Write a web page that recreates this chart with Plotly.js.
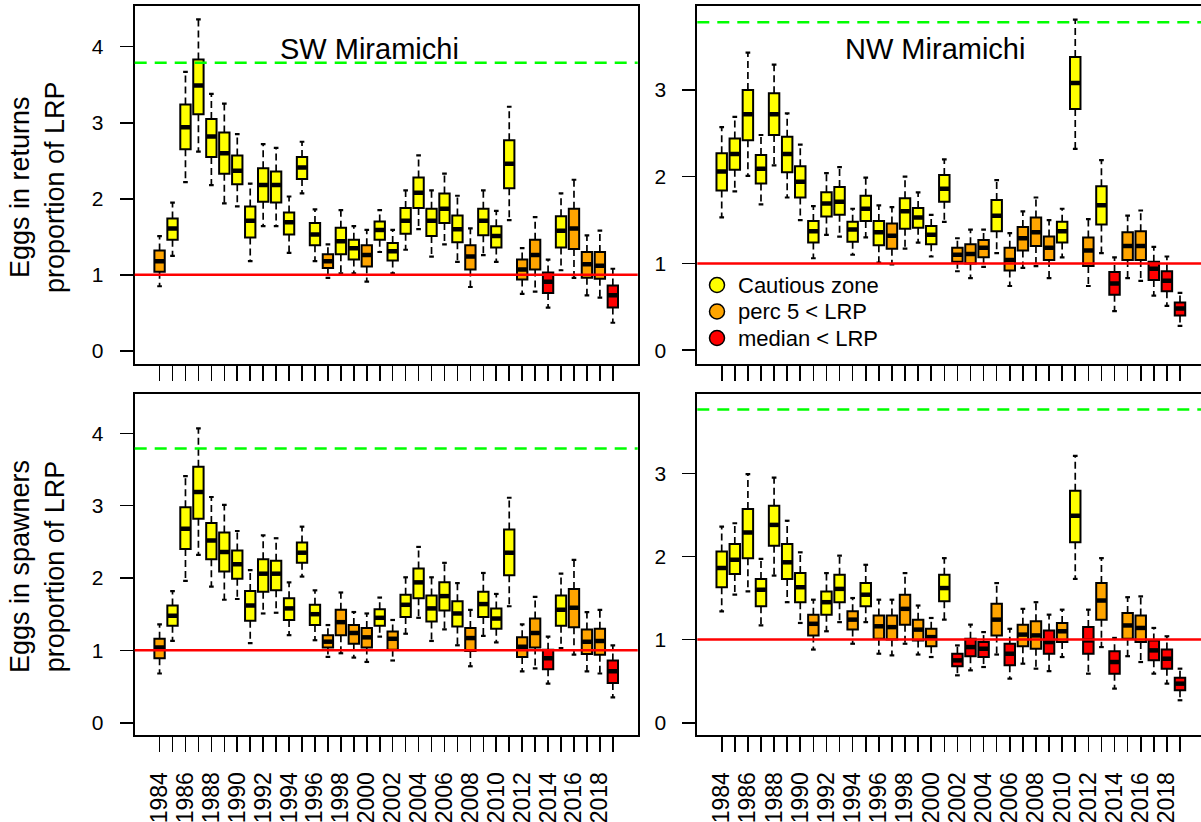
<!DOCTYPE html>
<html>
<head>
<meta charset="utf-8">
<script src="https://cdn.plot.ly/plotly-3.0.1.min.js"></script>
<style>html,body{margin:0;padding:0;background:#fff;}#chart{width:1201px;height:822px;}</style>
</head>
<body>
<div id="chart"></div>
<script>
const years = [1984,1985,1986,1987,1988,1989,1990,1991,1992,1993,1994,1995,1996,1997,1998,1999,2000,2001,2002,2003,2004,2005,2006,2007,2008,2009,2010,2011,2012,2013,2014,2015,2016,2017,2018,2019];

// SW Miramichi, eggs in returns
const swRetHi  = [1.51,1.95,3.67,4.36,3.38,3.25,2.85,2.20,2.72,2.67,2.03,2.75,1.86,1.40,1.85,1.64,1.59,1.85,1.59,2.11,2.57,2.11,2.33,2.04,1.61,2.11,1.84,3.21,1.35,1.76,1.20,2.07,2.25,1.52,1.58,1.08];
const swRetQ3  = [1.32,1.74,3.24,3.83,3.05,2.87,2.57,1.90,2.40,2.36,1.82,2.55,1.68,1.27,1.62,1.46,1.39,1.70,1.42,1.88,2.28,1.87,2.07,1.78,1.39,1.87,1.64,2.77,1.20,1.46,1.03,1.77,1.87,1.30,1.30,0.86];
const swRetMed = [1.18,1.61,2.94,3.49,2.82,2.60,2.37,1.71,2.18,2.18,1.69,2.41,1.53,1.18,1.44,1.35,1.26,1.59,1.31,1.71,2.08,1.71,1.87,1.60,1.24,1.71,1.51,2.46,1.07,1.26,0.91,1.58,1.61,1.14,1.12,0.73];
const swRetQ1  = [1.04,1.46,2.65,3.11,2.55,2.33,2.19,1.49,1.96,1.95,1.53,2.26,1.39,1.09,1.27,1.20,1.11,1.46,1.19,1.54,1.88,1.51,1.68,1.43,1.07,1.52,1.36,2.14,0.94,1.07,0.76,1.36,1.34,0.96,0.95,0.57];
const swRetLo  = [0.85,1.25,2.22,2.62,2.18,1.94,1.90,1.18,1.64,1.64,1.29,2.07,1.18,0.96,1.02,1.02,0.91,1.30,1.02,1.33,1.60,1.24,1.40,1.17,0.84,1.26,1.17,1.72,0.75,0.78,0.57,1.06,0.96,0.73,0.70,0.37];
const swRetStatus = ["O","Y","Y","Y","Y","Y","Y","Y","Y","Y","Y","Y","Y","O","Y","Y","O","Y","Y","Y","Y","Y","Y","Y","O","Y","Y","Y","O","O","R","Y","O","O","O","R"];

// NW Miramichi, eggs in returns
const nwRetHi  = [2.57,2.69,3.43,2.48,3.29,2.73,2.37,1.66,2.04,2.11,1.63,1.99,1.67,1.65,2.00,1.82,1.56,2.20,1.29,1.39,1.39,1.96,1.35,1.60,1.76,1.50,1.63,3.81,1.51,2.19,1.07,1.55,1.61,1.19,1.08,0.66];
const nwRetQ3  = [2.27,2.44,3.00,2.25,2.96,2.46,2.12,1.49,1.82,1.88,1.48,1.78,1.49,1.46,1.75,1.64,1.43,2.02,1.18,1.22,1.27,1.73,1.18,1.42,1.53,1.31,1.48,3.38,1.30,1.89,0.90,1.36,1.37,1.02,0.91,0.55];
const nwRetMed = [2.06,2.26,2.72,2.09,2.72,2.26,1.94,1.37,1.69,1.71,1.39,1.63,1.36,1.32,1.60,1.53,1.33,1.86,1.10,1.11,1.18,1.55,1.04,1.29,1.36,1.18,1.37,3.08,1.15,1.67,0.77,1.20,1.20,0.94,0.80,0.48];
const nwRetQ1  = [1.84,2.08,2.42,1.92,2.48,2.05,1.76,1.24,1.54,1.56,1.25,1.49,1.21,1.17,1.40,1.41,1.22,1.71,1.02,1.00,1.07,1.37,0.92,1.15,1.20,1.04,1.24,2.78,0.97,1.45,0.64,1.04,1.04,0.81,0.68,0.40];
const nwRetLo  = [1.53,1.83,2.01,1.68,2.13,1.76,1.50,1.06,1.33,1.31,1.10,1.30,1.01,0.99,1.17,1.24,1.08,1.48,0.91,0.83,0.96,1.12,0.74,0.95,0.97,0.83,1.07,2.32,0.74,1.12,0.45,0.83,0.80,0.63,0.51,0.28];
const nwRetStatus = ["Y","Y","Y","Y","Y","Y","Y","Y","Y","Y","Y","Y","Y","O","Y","Y","Y","Y","O","O","O","Y","O","O","O","O","Y","Y","O","Y","R","O","O","R","R","R"];

// SW Miramichi, eggs in spawners
const swSpaHi  = [1.36,1.82,3.41,4.07,3.12,3.01,2.65,2.11,2.59,2.55,1.94,2.71,1.83,1.35,1.80,1.53,1.51,1.73,1.42,2.01,2.43,2.01,2.21,1.93,1.56,2.07,1.78,3.11,1.36,1.74,1.19,2.06,2.25,1.53,1.56,1.07];
const swSpaQ3  = [1.16,1.62,2.98,3.54,2.76,2.63,2.38,1.82,2.26,2.24,1.72,2.49,1.63,1.21,1.56,1.35,1.31,1.57,1.26,1.77,2.13,1.76,1.94,1.68,1.31,1.81,1.58,2.67,1.18,1.44,1.01,1.76,1.85,1.29,1.30,0.86];
const swSpaMed = [1.04,1.48,2.68,3.19,2.52,2.36,2.19,1.62,2.06,2.06,1.58,2.35,1.50,1.12,1.39,1.24,1.18,1.45,1.16,1.63,1.94,1.58,1.75,1.51,1.17,1.64,1.44,2.35,1.05,1.24,0.89,1.56,1.59,1.12,1.13,0.71];
const swSpaQ1  = [0.89,1.34,2.40,2.82,2.26,2.09,1.99,1.41,1.81,1.83,1.42,2.21,1.35,1.04,1.21,1.09,1.04,1.34,1.01,1.46,1.72,1.40,1.55,1.33,0.99,1.46,1.30,2.04,0.91,1.04,0.74,1.34,1.32,0.95,0.94,0.55];
const swSpaLo  = [0.68,1.13,1.96,2.32,1.88,1.70,1.71,1.10,1.51,1.52,1.21,2.02,1.14,0.91,0.96,0.90,0.84,1.19,0.86,1.23,1.45,1.13,1.29,1.07,0.78,1.20,1.11,1.61,0.71,0.75,0.54,1.03,0.94,0.71,0.68,0.35];
const swSpaStatus = ["O","Y","Y","Y","Y","Y","Y","Y","Y","Y","Y","Y","Y","O","O","O","O","Y","O","Y","Y","Y","Y","Y","O","Y","Y","Y","O","O","R","Y","O","O","O","R"];

// NW Miramichi, eggs in spawners
const nwSpaHi  = [2.36,2.40,2.99,1.97,2.95,2.43,2.05,1.48,1.80,2.01,1.50,1.90,1.48,1.48,1.80,1.41,1.26,1.98,0.93,1.18,1.09,1.68,1.13,1.37,1.45,1.30,1.36,3.21,1.36,1.98,1.02,1.51,1.52,1.14,1.04,0.65];
const nwSpaQ3  = [2.06,2.15,2.57,1.73,2.61,2.15,1.80,1.30,1.58,1.78,1.34,1.68,1.29,1.29,1.54,1.24,1.13,1.78,0.83,1.01,0.97,1.43,0.95,1.18,1.22,1.11,1.20,2.79,1.15,1.68,0.86,1.32,1.29,0.99,0.88,0.54];
const nwSpaMed = [1.86,1.96,2.29,1.60,2.38,1.93,1.63,1.19,1.45,1.61,1.24,1.54,1.16,1.15,1.37,1.12,1.03,1.62,0.75,0.91,0.89,1.24,0.83,1.06,1.05,0.97,1.10,2.49,0.99,1.47,0.73,1.17,1.14,0.87,0.77,0.47];
const nwSpaQ1  = [1.63,1.79,1.98,1.40,2.13,1.73,1.45,1.05,1.30,1.45,1.12,1.40,1.01,1.00,1.18,0.99,0.92,1.46,0.68,0.80,0.79,1.05,0.69,0.92,0.89,0.83,0.97,2.17,0.83,1.24,0.59,1.01,0.97,0.75,0.65,0.39];
const nwSpaLo  = [1.34,1.54,1.58,1.17,1.77,1.45,1.20,0.88,1.10,1.21,0.95,1.21,0.83,0.81,0.95,0.82,0.79,1.24,0.57,0.63,0.67,0.82,0.53,0.71,0.65,0.62,0.79,1.73,0.59,0.91,0.41,0.80,0.73,0.59,0.47,0.27];
const nwSpaStatus = ["Y","Y","Y","Y","Y","Y","Y","O","Y","Y","O","Y","O","O","O","O","O","Y","R","R","R","O","R","O","O","R","O","Y","R","O","R","O","O","R","R","R"];

const panelTitles = ["SW Miramichi", "NW Miramichi"];
const rowTitles = ["Eggs in returns<br>proportion of LRP", "Eggs in spawners<br>proportion of LRP"];
const legendLabels = ["Cautious zone", "perc 5 < LRP", "median < LRP"];
const statusCodes = ["Y", "O", "R"];
const statusColors = {Y: "#FFFF00", O: "#FFA500", R: "#FF0000"};
const lrpLevel = [1, 1, 1, 1];
const usrLevel = [3.79, 3.78, 3.79, 3.77];
const yTicksSW = [0, 1, 2, 3, 4];
const yTicksNW = [0, 1, 2, 3];
const xTickText = years.map((y, i) => (i % 2 === 0 ? String(y) : ""));

const panels = [
  {hi: swRetHi, q3: swRetQ3, med: swRetMed, q1: swRetQ1, lo: swRetLo, st: swRetStatus, xa: "x", ya: "y"},
  {hi: nwRetHi, q3: nwRetQ3, med: nwRetMed, q1: nwRetQ1, lo: nwRetLo, st: nwRetStatus, xa: "x2", ya: "y2"},
  {hi: swSpaHi, q3: swSpaQ3, med: swSpaMed, q1: swSpaQ1, lo: swSpaLo, st: swSpaStatus, xa: "x3", ya: "y3"},
  {hi: nwSpaHi, q3: nwSpaQ3, med: nwSpaMed, q1: nwSpaQ1, lo: nwSpaLo, st: nwSpaStatus, xa: "x4", ya: "y4"}
];

const BOXW = 0.8, CAPH = 0.18;
const traces = [];
panels.forEach(p => {
  const wx = [], wy = [], cx = [], cy = [], mx = [], my = [];
  years.forEach((yr, i) => {
    wx.push(yr, yr, null, yr, yr, null);
    wy.push(p.q3[i], p.hi[i], null, p.q1[i], p.lo[i], null);
    cx.push(yr - CAPH, yr + CAPH, null, yr - CAPH, yr + CAPH, null);
    cy.push(p.hi[i], p.hi[i], null, p.lo[i], p.lo[i], null);
    mx.push(yr - BOXW / 2 + 0.03, yr + BOXW / 2 - 0.03, null);
    my.push(p.med[i], p.med[i], null);
  });
  traces.push({type: "scatter", mode: "lines", xaxis: p.xa, yaxis: p.ya, showlegend: false, hoverinfo: "skip",
    x: wx, y: wy, line: {color: "#000", width: 1.7, dash: "7px,4px"}, connectgaps: false});
  traces.push({type: "scatter", mode: "lines", xaxis: p.xa, yaxis: p.ya, showlegend: false, hoverinfo: "skip",
    x: cx, y: cy, line: {color: "#000", width: 2.2}, connectgaps: false});
  statusCodes.forEach(code => {
    const idx = years.map((_, i) => i).filter(i => p.st[i] === code);
    if (!idx.length) return;
    traces.push({
      type: "box", xaxis: p.xa, yaxis: p.ya, showlegend: false, hoverinfo: "skip",
      x: idx.map(i => years[i]),
      q1: idx.map(i => p.q1[i]), median: idx.map(i => p.med[i]), q3: idx.map(i => p.q3[i]),
      lowerfence: idx.map(i => p.q1[i]), upperfence: idx.map(i => p.q3[i]),
      width: BOXW, whiskerwidth: 0, boxpoints: false,
      fillcolor: statusColors[code], line: {color: "#000", width: 2}
    });
  });
  traces.push({type: "scatter", mode: "lines", xaxis: p.xa, yaxis: p.ya, showlegend: false, hoverinfo: "skip",
    x: mx, y: my, line: {color: "#000", width: 4.5}, connectgaps: false});
});

const FONT = "Liberation Sans, Arial, sans-serif";
const W = 1201, H = 822;
function xAx(domain, range, anchor, labels) {
  return {domain, range, anchor, tickmode: "array", tickvals: years, ticktext: xTickText,
    showticklabels: labels, ticks: "outside", ticklen: 15, tickwidth: 1.6, tickcolor: "#000",
    tickangle: -90, tickfont: {family: FONT, size: 23, color: "#000"}, ticklabelstandoff: 11,
    showline: true, linewidth: 2, linecolor: "#000", mirror: true, showgrid: false, zeroline: false, fixedrange: true};
}
function yAx(domain, range, anchor, ticks) {
  return {domain, range, anchor, tickmode: "array", tickvals: ticks, ticktext: ticks.map(String),
    ticks: "outside", ticklen: 13, tickwidth: 1.6, tickcolor: "#000",
    tickfont: {family: FONT, size: 21, color: "#000"}, ticklabelstandoff: 12,
    showline: true, linewidth: 2, linecolor: "#000", mirror: true, showgrid: false, zeroline: false, fixedrange: true};
}
const xL = [134.7 / W, 637.7 / W], xR = [697.3 / W, 1];
const yT = [1 - 363.5 / H, 1 - 5.7 / H], yB = [1 - 735 / H, 1 - 394 / H];
const rangeL = [1982.08, 2020.92], rangeR = [1982.136, 2020.604];

const shapes = [];
panels.forEach((p, k) => {
  const n = k === 0 ? "" : String(k + 1);
  shapes.push({type: "line", xref: "x" + n + " domain", yref: "y" + n, x0: 0, x1: 1, y0: usrLevel[k], y1: usrLevel[k],
    line: {color: "#00FF00", width: 2.5, dash: "12px,8px"}, layer: "above"});
  shapes.push({type: "line", xref: "x" + n + " domain", yref: "y" + n, x0: 0, x1: 1, y0: lrpLevel[k], y1: lrpLevel[k],
    line: {color: "#FF0000", width: 2.5}, layer: "above"});
});

const annotations = [
  {text: panelTitles[0], xref: "paper", yref: "paper", x: 369 / W, y: 1 - 49 / H, xanchor: "center", yanchor: "middle",
    showarrow: false, font: {family: FONT, size: 29, color: "#000"}},
  {text: panelTitles[1], xref: "paper", yref: "paper", x: 935 / W, y: 1 - 49 / H, xanchor: "center", yanchor: "middle",
    showarrow: false, font: {family: FONT, size: 29, color: "#000"}},
  {text: rowTitles[0], xref: "paper", yref: "paper", x: 37 / W, y: 1 - 187 / H, xanchor: "center", yanchor: "middle",
    textangle: -90, showarrow: false, font: {family: FONT, size: 27, color: "#000"}},
  {text: rowTitles[1], xref: "paper", yref: "paper", x: 37 / W, y: 1 - 567 / H, xanchor: "center", yanchor: "middle",
    textangle: -90, showarrow: false, font: {family: FONT, size: 27, color: "#000"}}
];

// legend (drawn as shapes + annotations inside the NW returns panel)
const legendRowsY = [285, 311.5, 338];
statusCodes.forEach((code, k) => {
  shapes.push({type: "circle", xref: "paper", yref: "paper", xsizemode: "pixel", ysizemode: "pixel",
    xanchor: 717 / W, yanchor: 1 - legendRowsY[k] / H, x0: -7.5, x1: 7.5, y0: -7.5, y1: 7.5,
    fillcolor: statusColors[code], line: {color: "#000", width: 1.5}, layer: "above"});
  annotations.push({text: legendLabels[k], xref: "paper", yref: "paper", x: 736 / W, y: 1 - legendRowsY[k] / H,
    xanchor: "left", yanchor: "middle", showarrow: false, font: {family: FONT, size: 22, color: "#000"}});
});

const layout = {
  width: W, height: H, margin: {l: 0, r: 0, t: 0, b: 0},
  paper_bgcolor: "#fff", plot_bgcolor: "#fff", boxmode: "overlay", showlegend: false,
  font: {family: FONT, color: "#000"},
  xaxis: xAx(xL, rangeL, "y", false), yaxis: yAx(yT, [-0.166, 4.539], "x", yTicksSW),
  xaxis2: xAx(xR, rangeR, "y2", false), yaxis2: yAx(yT, [-0.153, 3.970], "x2", yTicksNW),
  xaxis3: xAx(xL, rangeL, "y3", true), yaxis3: yAx(yB, [-0.170, 4.544], "x3", yTicksSW),
  xaxis4: xAx(xR, rangeR, "y4", true), yaxis4: yAx(yB, [-0.148, 3.955], "x4", yTicksNW),
  shapes, annotations
};

Plotly.newPlot("chart", traces, layout, {staticPlot: true, displayModeBar: false});
</script>
</body>
</html>
